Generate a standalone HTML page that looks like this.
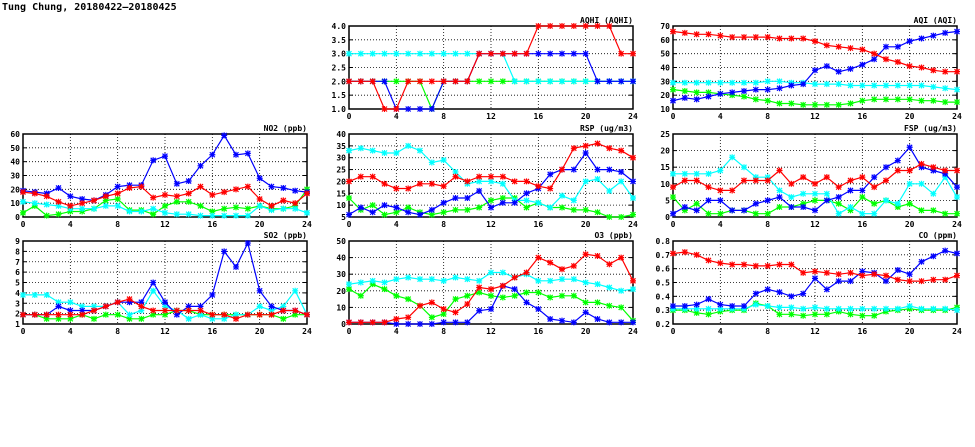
<!DOCTYPE html>
<html><head><meta charset="utf-8"><style>
html,body{margin:0;padding:0;background:#fff;width:975px;height:447px;overflow:hidden}
svg text{font-family:"DejaVu Sans Mono","Liberation Mono",monospace;font-weight:bold;font-size:8px;fill:#000}
</style></head><body>
<svg id="chart" width="975" height="447" xmlns="http://www.w3.org/2000/svg">
<text x="2" y="10" style="font-size:10px">Tung Chung, 20180422–20180425</text>
</svg>
<script>
const hours=[0,1,2,3,4,5,6,7,8,9,10,11,12,13,14,15,16,17,18,19,20,21,22,23,24];
const xTicks=[0,4,8,12,16,20,24];
const seriesColors=['#ff0000','#0000ff','#00ffff','#00ff00'];
// NO2
const no2Red=[18,17,15,11,8,10,12,15,17,21,22,14,16,15,17,22,16,18,20,22,13,8,12,10,17];
const no2Blue=[19,18,17,21,15,13,12,16,22,23,23,41,44,24,26,37,45,59,45,46,28,22,21,19,18];
const no2Cyan=[11,10,9,8,6,6,6,8,8,4,4,6,3,2,2,1,1,1,1,1,8,5,6,6,3];
const no2Green=[3,8,1,2,4,4,6,12,13,5,5,2,8,11,11,8,4,6,7,6,8,6,6,8,20];
const no2Ticks=[0,10,20,30,40,50,60];
// SO2
const so2Red=[1.9,1.9,1.9,1.9,1.9,1.9,2.3,2.7,3.1,3.4,2.7,2.3,2.3,2.3,2.3,2.3,1.9,1.9,1.5,1.9,1.9,1.9,2.3,2.3,1.9];
const so2Blue=[1.9,1.9,1.9,2.7,2.3,2.3,2.3,2.7,3.1,3.1,3.1,5.0,3.1,1.9,2.7,2.7,3.8,8.0,6.5,8.8,4.2,2.7,2.3,2.3,1.9];
const so2Cyan=[3.8,3.8,3.8,3.1,3.1,2.7,2.7,2.7,3.1,1.9,2.3,4.2,2.7,2.3,1.5,1.9,1.5,1.5,1.9,1.9,2.7,2.3,2.7,4.2,1.9];
const so2Green=[1.9,1.9,1.5,1.5,1.5,1.9,1.5,1.9,1.9,1.5,1.5,1.9,1.9,2.3,2.3,1.9,1.9,1.9,1.9,1.9,1.9,1.9,1.5,1.9,1.9];
const so2Ticks=[1,2,3,4,5,6,7,8,9];
// AQHI
const aqhiRed=[2,2,2,1,1,2,2,2,2,2,2,3,3,3,3,3,4,4,4,4,4,4,4,3,3];
const aqhiBlue=[2,2,2,2,1,1,1,1,2,2,2,3,3,3,3,3,3,3,3,3,3,2,2,2,2];
const aqhiCyan=[3,3,3,3,3,3,3,3,3,3,3,3,3,3,2,2,2,2,2,2,2,2,2,2,2];
const aqhiGreen=[2,2,2,2,2,2,2,1,2,2,2,2,2,2,2,2,2,2,2,2,2,2,2,2,2];
const aqhiTicks=[1.0,1.5,2.0,2.5,3.0,3.5,4.0];
// AQI
const aqiRed=[66,65,64,64,63,62,62,62,62,61,61,61,59,56,55,54,53,50,46,44,41,40,38,37,37];
const aqiBlue=[16,18,17,19,21,22,23,24,24,25,27,28,38,41,37,39,42,46,55,55,59,61,63,65,66];
const aqiCyan=[29,29,29,29,29,29,29,29,30,30,29,29,28,28,28,27,27,27,27,27,27,27,26,25,24];
const aqiGreen=[24,23,22,22,21,20,19,17,16,14,14,13,13,13,13,14,16,17,17,17,17,16,16,15,15];
const aqiTicks=[10,20,30,40,50,60,70];
// RSP
const rspRed=[20,22,22,19,17,17,19,19,18,22,20,22,22,22,20,20,18,17,25,34,35,36,34,33,30];
const rspBlue=[6,9,7,10,9,7,6,8,11,13,13,16,9,11,11,15,17,23,25,25,32,25,25,24,20];
const rspCyan=[33,34,33,32,32,35,33,28,29,24,19,20,20,19,12,12,11,9,14,12,20,21,16,20,13];
const rspGreen=[13,8,10,6,7,9,7,6,7,8,8,9,12,13,13,9,11,9,9,8,8,7,5,5,6];
const rspTicks=[5,10,15,20,25,30,35,40];
// O3
const o3Red=[1,1,1,1,3,4,11,13,9,7,12,22,21,23,28,31,40,37,33,35,42,41,36,40,26];
const o3Blue=[1,1,1,1,0,0,0,0,1,1,1,8,9,23,21,13,9,3,2,1,7,3,1,1,1];
const o3Cyan=[24,25,26,25,27,28,27,27,26,28,27,26,31,31,28,30,26,26,27,27,25,24,22,20,21];
const o3Green=[21,17,24,21,17,15,11,4,6,15,17,19,17,16,17,19,19,16,17,17,13,13,11,10,2];
const o3Ticks=[0,10,20,30,40,50];
// FSP
const fspRed=[9,11,11,9,8,8,11,11,11,14,10,12,10,12,9,11,12,9,11,14,14,16,15,14,14];
const fspBlue=[1,3,2,5,5,2,2,4,5,6,3,3,2,5,6,8,8,12,15,17,21,15,14,13,9];
const fspCyan=[13,13,13,13,14,18,15,12,12,8,6,7,7,7,1,3,1,1,5,4,10,10,7,12,6];
const fspGreen=[6,2,4,1,1,2,2,1,1,3,3,4,5,5,4,2,6,4,5,3,4,2,2,1,1];
const fspTicks=[0,5,10,15,20,25];
// CO
const coRed=[.71,.72,.70,.66,.64,.63,.63,.62,.62,.63,.63,.57,.58,.57,.56,.57,.55,.56,.55,.52,.51,.51,.52,.52,.55];
const coBlue=[.33,.33,.34,.38,.34,.33,.33,.42,.45,.43,.40,.42,.53,.45,.51,.51,.58,.57,.51,.59,.56,.65,.69,.73,.71];
const coCyan=[.31,.31,.31,.31,.31,.31,.31,.34,.33,.32,.32,.31,.32,.31,.31,.31,.31,.31,.31,.31,.33,.31,.31,.31,.30];
const coGreen=[.30,.30,.28,.27,.29,.30,.30,.35,.33,.27,.27,.26,.27,.27,.29,.27,.26,.26,.29,.30,.31,.30,.30,.30,.32];
const coTicks=[0.2,0.3,0.4,0.5,0.6,0.7,0.8];

const NS='http://www.w3.org/2000/svg';
const svg=document.getElementById('chart');
function mk(tag,attrs,parent){const e=document.createElementNS(NS,tag);for(const k in attrs)e.setAttribute(k,attrs[k]);(parent||svg).appendChild(e);return e;}

function panel(key,title,left,top,ticks,dec,series){
  const w=284,h=83,right=left+w,bottom=top+h;
  const ymin=ticks[0],ymax=ticks[ticks.length-1];
  const xs=v=>left+v/24*w;
  const ys=v=>bottom-(v-ymin)/(ymax-ymin)*h;
  const g=mk('g',{});
  
  
  ticks.forEach(t=>{
    const y=ys(t);
    if(t!==ymin&&t!==ymax){const l=mk('line',{x1:left,x2:right,y1:y,y2:y,stroke:'#000','stroke-width':0.8,'stroke-dasharray':'1,2'},g);
    }
    const tx=mk('text',{x:left-3,y:y+3,'text-anchor':'end'},g);tx.textContent=t.toFixed(dec);
    
    mk('line',{x1:left,x2:left+4,y1:y,y2:y,stroke:'#000'},g);
    mk('line',{x1:right,x2:right-4,y1:y,y2:y,stroke:'#000'},g);
  });
  xTicks.forEach(t=>{
    const x=xs(t);
    if(t!==0&&t!==24){const l=mk('line',{x1:x,x2:x,y1:top,y2:bottom,stroke:'#000','stroke-width':0.8,'stroke-dasharray':'1,2'},g);
    }
    const tx=mk('text',{x:x,y:bottom+10,'text-anchor':'middle'},g);tx.textContent=t;
    
  });
  const fr=mk('rect',{x:left,y:top,width:w,height:h,fill:'none',stroke:'#000','stroke-width':1.5},g);
  
  const tt=mk('text',{x:right,y:top-3,'text-anchor':'end'},g);tt.textContent=title;
  
  const names=['red','blue','cyan','green'];
  [3,2,1,0].forEach(i=>{
    const vals=series[i];
    const c=seriesColors[i];
    const pts=hours.map((hh,j)=>xs(hh).toFixed(1)+','+ys(vals[j]).toFixed(1)).join(' ');
    const pl=mk('polyline',{points:pts,fill:'none',stroke:c,'stroke-width':1.2},g);
    
    
    hours.forEach((hh,j)=>{
      const x=xs(hh),y=ys(vals[j]);
      const m=mk('path',{d:`M${x-2.5},${y-2.5}L${x+2.5},${y+2.5}M${x-2.5},${y+2.5}L${x+2.5},${y-2.5}M${x-3},${y}L${x+3},${y}M${x},${y-3}L${x},${y+3}`,stroke:c,'stroke-width':1.2},g);
      
      
    });
  });
}
panel('aqhi','AQHI (AQHI)',349,26,aqhiTicks,1,[aqhiRed,aqhiBlue,aqhiCyan,aqhiGreen]);
panel('aqi','AQI (AQI)',673,26,aqiTicks,0,[aqiRed,aqiBlue,aqiCyan,aqiGreen]);
panel('no2','NO2 (ppb)',23,134,no2Ticks,0,[no2Red,no2Blue,no2Cyan,no2Green]);
panel('rsp','RSP (ug/m3)',349,134,rspTicks,0,[rspRed,rspBlue,rspCyan,rspGreen]);
panel('fsp','FSP (ug/m3)',673,134,fspTicks,0,[fspRed,fspBlue,fspCyan,fspGreen]);
panel('so2','SO2 (ppb)',23,241,so2Ticks,0,[so2Red,so2Blue,so2Cyan,so2Green]);
panel('o3','O3 (ppb)',349,241,o3Ticks,0,[o3Red,o3Blue,o3Cyan,o3Green]);
panel('co','CO (ppm)',673,241,coTicks,1,[coRed,coBlue,coCyan,coGreen]);
</script>
</body></html>
